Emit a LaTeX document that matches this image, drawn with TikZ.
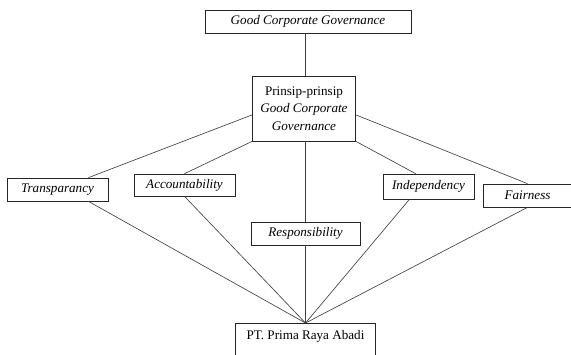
\documentclass[tikz,border=0pt]{standalone}
\usepackage{fontspec}
\setmainfont{Liberation Serif}
\usepackage{tikz}

\begin{document}
\begin{tikzpicture}[x=0.03cm, y=-0.03cm]
    \tikzset{box/.style = {rectangle, draw=black!85, line width=0.6pt, inner sep=2pt,
        font=\fontsize{11.2}{15}\selectfont, align=center}}
    \tikzset{link/.style = {draw=black!75, line width=0.55pt}}
    \useasboundingbox (0,0) rectangle (571,354);
    \node[box, minimum width=6.18cm, minimum height=0.69cm] (gcg) at (308,21.5) {\emph{Good Corporate Governance}};
    \node[box, minimum width=3.09cm, minimum height=1.95cm] (prinsip) at (304,108.5)
        {Prinsip-prinsip\\ \emph{Good Corporate}\\ \emph{Governance}};
    \node[box, minimum width=3.03cm, minimum height=0.69cm] (transparancy) at (57.5,189.5) {\emph{Transparancy}};
    \node[box, minimum width=3.03cm, minimum height=0.66cm] (accountability) at (184.5,185) {\emph{Accountability}};
    \node[box, minimum width=3.27cm, minimum height=0.69cm] (responsibility) at (305.5,233.5) {\emph{Responsibility}};
    \node[box, minimum width=2.73cm, minimum height=0.75cm] (independency) at (428.5,186.5) {\emph{Independency}};
    \node[box, minimum width=2.64cm, minimum height=0.69cm] (fairness) at (527.5,195.5) {\emph{Fairness}};
    \node[box, anchor=north, minimum width=4.2cm, inner ysep=6pt, text depth=14pt] (pt) at (305.5,323) {PT. Prima Raya Abadi};
    % from the principles down to each one
    \draw[link] (gcg.south -| responsibility.north) -- (prinsip.north -| responsibility.north);
    \draw[link] (prinsip.187) -- (transparancy.21);
    \draw[link] (prinsip.south west) -- (accountability.north);
    \draw[link] (prinsip.south -| responsibility.north) -- (responsibility.north);
    \draw[link] (prinsip.south east) -- (independency.135);
    \draw[link] (prinsip.-7) -- (fairness.north);
    % and all of them into the company
    \draw[link] (transparancy.-21) -- (pt.north);
    \draw[link] (accountability.south) -- (pt.north);
    \draw[link] (responsibility.south) -- (pt.north);
    \draw[link] (independency.214) -- (pt.north);
    \draw[link] (fairness.south) -- (pt.north);
  \end{tikzpicture}
\end{document}
